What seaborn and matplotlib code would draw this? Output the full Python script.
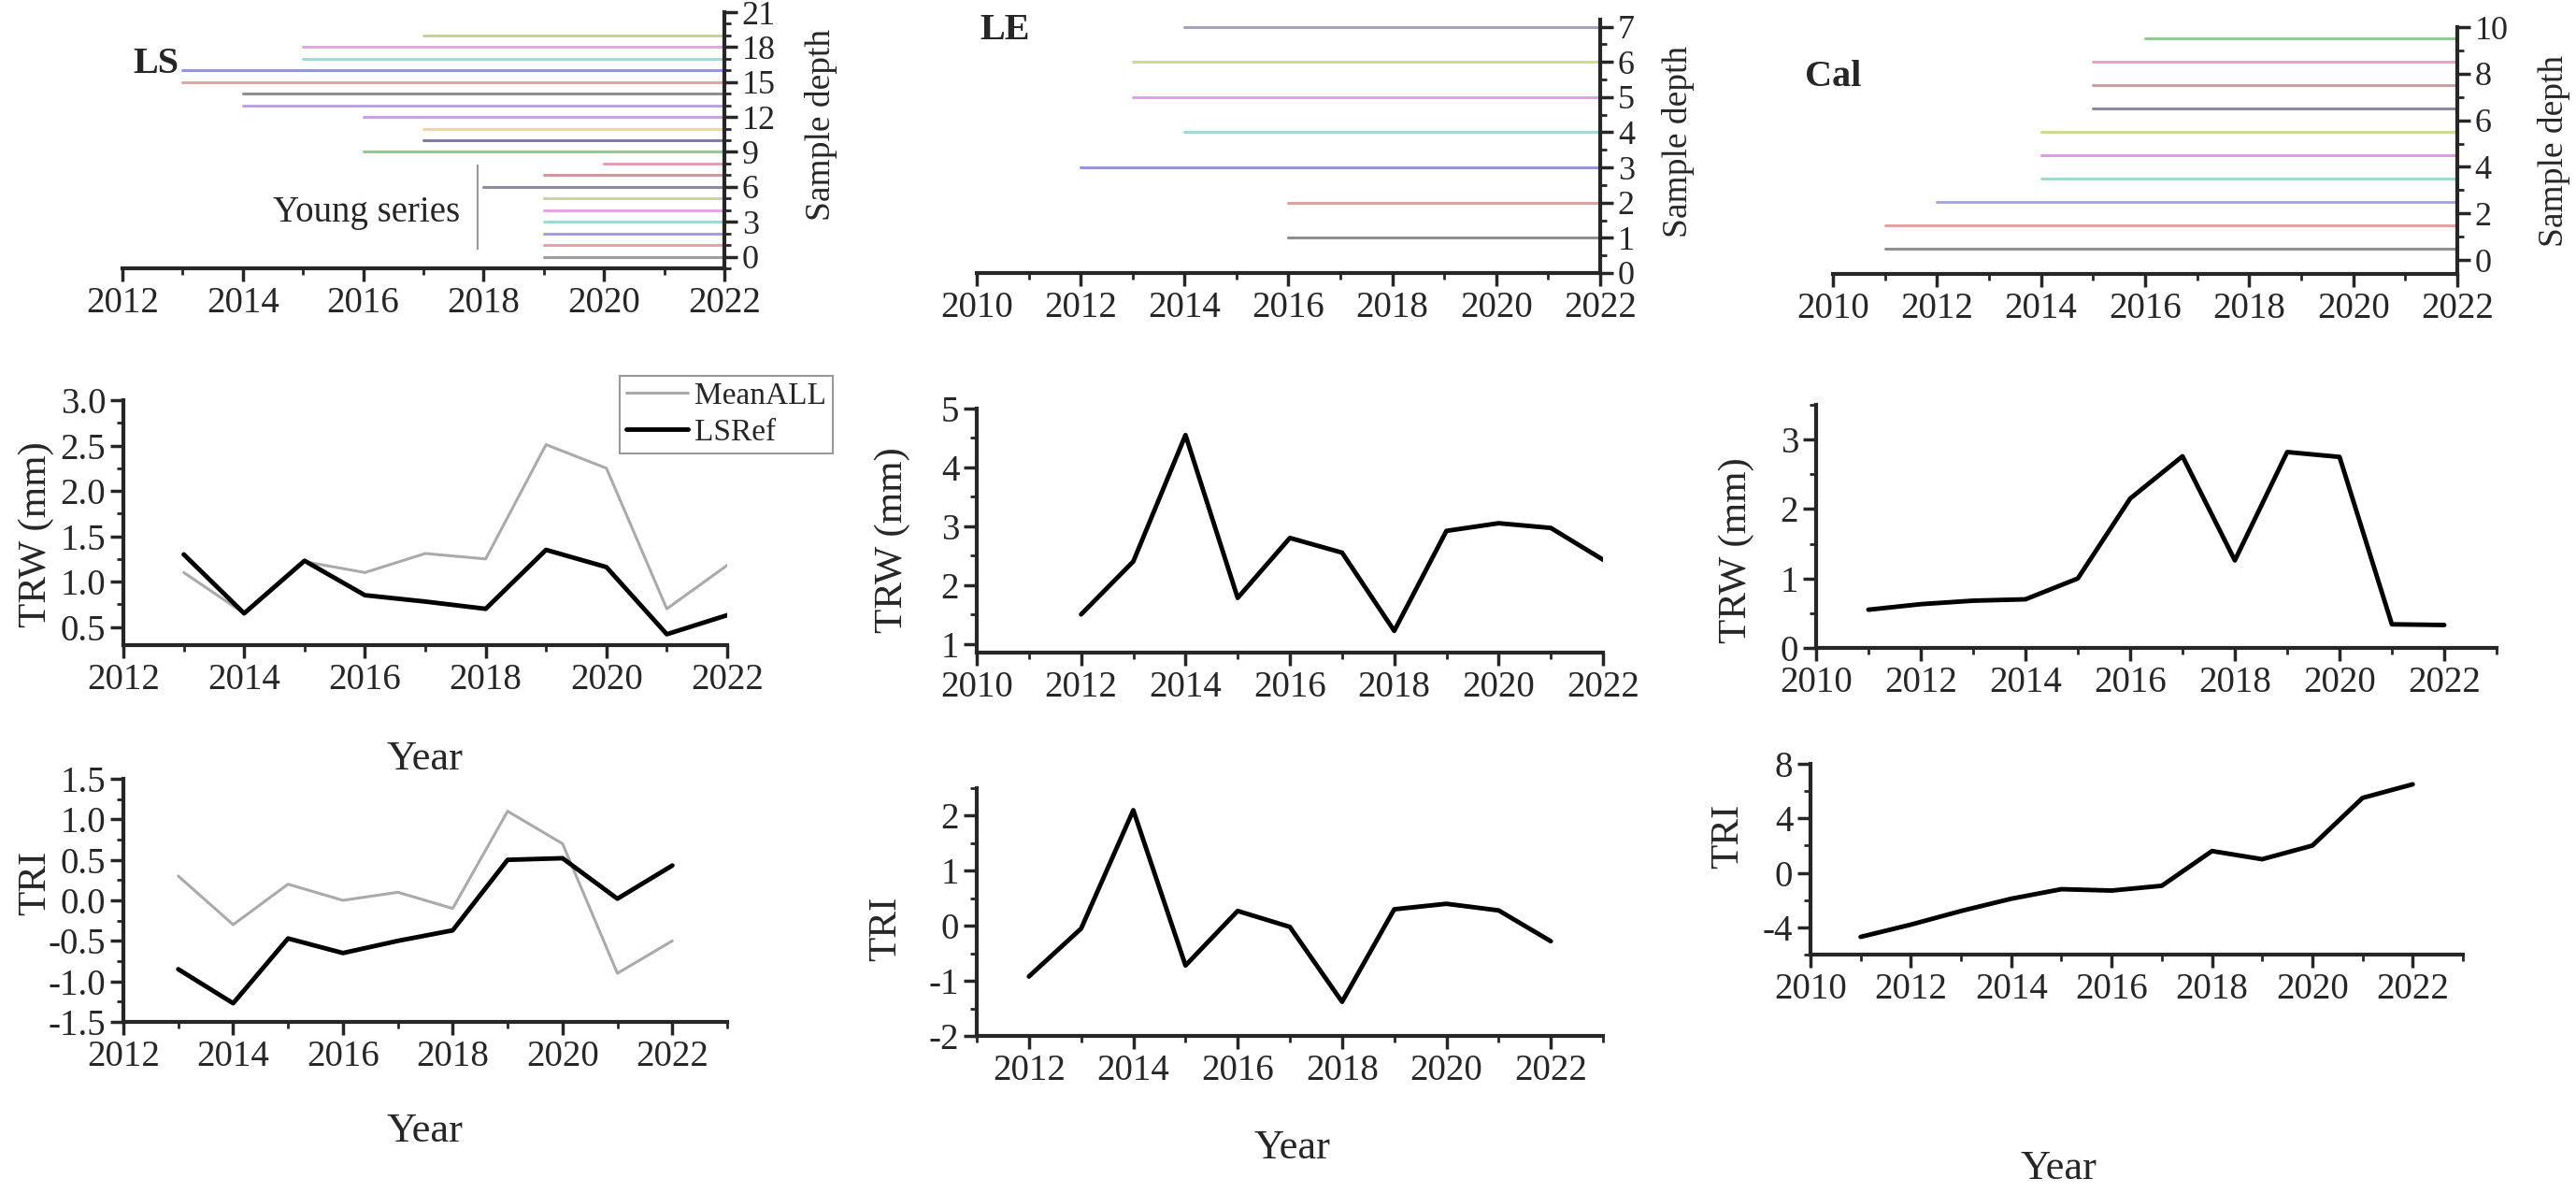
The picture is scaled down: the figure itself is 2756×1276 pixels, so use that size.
import pandas as pd
import matplotlib.pyplot as plt
import seaborn as sns
from matplotlib.ticker import MultipleLocator, FormatStrFormatter

# ---- sample depth segments (start year, all run to 2022), listed bottom to top
end_year = 2022
ls_start = [2019, 2019, 2019, 2019, 2019, 2019, 2018, 2019, 2020, 2016,
            2017, 2017, 2016, 2014, 2014, 2013, 2013, 2015, 2015, 2017]
ls_depth = list(range(20))
ls_colors = ["#9c9c9c", "#e6a3a3", "#a0a0e2", "#9fd9d2", "#e8a2e8", "#c9d79a",
             "#8c8c9c", "#c99d9d", "#e89db4", "#8fcb8f", "#7d7dab", "#f0d993",
             "#c9a3d9", "#b9a3e2", "#8f8f8f", "#e6a3a3", "#9494d9", "#a3d9d2",
             "#e8a2e8", "#c9d193"]

le_start = [2016, 2016, 2012, 2014, 2013, 2013, 2014]
le_depth = [1, 2, 3, 4, 5, 6, 7]
le_colors = ["#8f8f8f", "#d9a3a3", "#9494d9", "#a3d9d2", "#e2a2e2", "#d2d993", "#a3a3bb"]

cal_start = [2011, 2011, 2012, 2014, 2014, 2014, 2015, 2015, 2015, 2016]
cal_depth = [0.5, 1.5, 2.5, 3.5, 4.5, 5.5, 6.5, 7.5, 8.5, 9.5]
cal_colors = ["#8f8f8f", "#e6a3a3", "#a6a6e2", "#9fd9d2", "#dc9ddc", "#d2d993",
              "#8a8aa3", "#c4a3a3", "#e8a2c9", "#93c993"]

# ---- ring width / index series
ls_years = [2013, 2014, 2015, 2016, 2017, 2018, 2019, 2020, 2021, 2022]
ls_trw_mean = [1.10, 0.65, 1.22, 1.10, 1.31, 1.25, 2.51, 2.25, 0.70, 1.18]
ls_trw_ref = [1.30, 0.65, 1.23, 0.85, 0.78, 0.70, 1.35, 1.16, 0.42, 0.63]
ls_tri_mean = [0.30, -0.30, 0.20, 0.00, 0.10, -0.10, 1.10, 0.70, -0.90, -0.50]
ls_tri_ref = [-0.85, -1.27, -0.47, -0.65, -0.50, -0.37, 0.50, 0.52, 0.02, 0.43]

le_years = [2012, 2013, 2014, 2015, 2016, 2017, 2018, 2019, 2020, 2021, 2022]
le_trw = [1.50, 2.40, 4.55, 1.78, 2.80, 2.55, 1.22, 2.92, 3.05, 2.97, 2.43]
le_tri = [-0.92, -0.05, 2.10, -0.72, 0.27, -0.02, -1.38, 0.30, 0.40, 0.28, -0.28]

cal_years = [2011, 2012, 2013, 2014, 2015, 2016, 2017, 2018, 2019, 2020, 2021, 2022]
cal_trw = [0.55, 0.63, 0.68, 0.70, 1.00, 2.15, 2.76, 1.26, 2.82, 2.75, 0.34, 0.33]
cal_tri = [-4.7, -3.8, -2.8, -1.9, -1.2, -1.3, -0.95, 1.6, 1.0, 2.0, 5.5, 6.5]

sns.set_style("ticks")
plt.rcParams["font.family"] = ["Liberation Serif", "DejaVu Serif"]
plt.rcParams["axes.unicode_minus"] = False
plt.rcParams["axes.linewidth"] = 3

W, H = 2756, 1276
fig = plt.figure(figsize=(W / 100, H / 100), dpi=100)


def add_ax(x0, x1, y0, y1):
    # pixel box of the reference -> figure fraction
    return fig.add_axes([x0 / W, 1 - y1 / H, (x1 - x0) / W, (y1 - y0) / H])


def style_ticks(ax, xmaj, xmin, ymaj, ymin, ysize=28):
    ax.xaxis.set_major_locator(MultipleLocator(xmaj))
    ax.xaxis.set_minor_locator(MultipleLocator(xmin))
    ax.yaxis.set_major_locator(MultipleLocator(ymaj))
    ax.yaxis.set_minor_locator(MultipleLocator(ymin))
    ax.tick_params(which="major", direction="out", length=10, width=2.5, labelsize=28)
    ax.tick_params(which="minor", direction="out", length=5, width=2)
    ax.tick_params(axis="y", labelsize=ysize)


def depth_panel(box, starts, depths, colors, xlim, ylim, ymaj, ymin, name, name_xy, lab_xy):
    ax = add_ax(*box)
    ids = [f"s{i}" for i in range(len(starts))]
    seg = pd.DataFrame({"Year": starts + [end_year] * len(starts),
                        "Depth": depths + depths,
                        "id": ids + ids})
    sns.lineplot(data=seg, x="Year", y="Depth", hue="id", palette=colors,
                 estimator=None, sort=False, legend=False, lw=2.2, ax=ax)
    ax.set_xlim(*xlim)
    ax.set_ylim(*ylim)
    sns.despine(ax=ax, left=True, top=True, right=False)
    ax.yaxis.tick_right()
    ax.yaxis.set_label_position("right")
    style_ticks(ax, 2, 1, ymaj, ymin, ysize=26)
    ax.set_xlabel("")
    ax.set_ylabel("Sample depth", fontsize=27, va="center")
    ax.yaxis.set_label_coords(*lab_xy)
    fig.text(name_xy[0] / W, 1 - name_xy[1] / H, name, fontsize=29,
             fontweight="bold", ha="left", va="center")
    return ax


# ---- top row: sample depth
ax = depth_panel((131, 775, 13, 287), ls_start, ls_depth, ls_colors, (2012, 2022), (-1, 21),
                 3, 1, "LS", (142, 68), (1.16, 0.56))
ax.vlines(2017.9, 0.6, 7.9, color="#9a9a9a", lw=1.5)
ax.text(2017.6, 3.8, "Young series", fontsize=28, ha="right", va="center")

depth_panel((1045, 1712, 21, 292), le_start, le_depth, le_colors, (2010, 2022), (0, 7.2),
            1, 0.5, "LE", (1048, 32), (1.125, 0.52))
depth_panel((1961, 2629, 29, 293), cal_start, cal_depth, cal_colors, (2010, 2022), (-0.6, 10),
            2, 1, "Cal", (1931, 82), (1.155, 0.5))


def series_panel(box, xlim, ylim, xmaj_start, ymaj, ymin, ylabel, ylab_xy, fmt=None, year_xy=None):
    ax = add_ax(*box)
    ax.set_xlim(*xlim)
    ax.set_ylim(*ylim)
    sns.despine(ax=ax)
    style_ticks(ax, 2, 1, ymaj, ymin)
    ax.set_xticks(range(xmaj_start, 2023, 2))
    if fmt:
        ax.yaxis.set_major_formatter(FormatStrFormatter(fmt))
    ax.set_ylabel(ylabel, fontsize=31, va="center")
    ax.yaxis.set_label_coords(*ylab_xy)
    if year_xy:
        ax.set_xlabel("Year", fontsize=32, va="top")
        ax.xaxis.set_label_coords(*year_xy)
    else:
        ax.set_xlabel("")
    return ax


# ---- middle row: TRW
ax = series_panel((132, 778, 428, 690), (2012, 2022), (0.3, 3.0), 2012, 0.5, 0.25,
                  "TRW (mm)", (-0.145, 0.45), "%.1f", (0.5, -0.39))
sns.lineplot(x=ls_years, y=ls_trw_mean, color="#aaaaaa", lw=2.2, label="MeanALL", ax=ax)
sns.lineplot(x=ls_years, y=ls_trw_ref, color="black", lw=3.5, label="LSRef", ax=ax)
ax.set_xlim(2012, 2022)
ax.legend(loc="upper left", bbox_to_anchor=(663 / W, 1 - 402 / H), bbox_transform=fig.transFigure,
          fontsize=24, frameon=True, fancybox=False, edgecolor="#999999", framealpha=1,
          handlelength=2.0, handletextpad=0.2, borderpad=0.2, labelspacing=0.25,
          borderaxespad=0).get_frame().set_linewidth(1.5)
ax.set_xlabel("Year", fontsize=32, va="top")
ax.xaxis.set_label_coords(0.5, -0.39)

ax = series_panel((1045, 1715, 437, 698), (2010, 2022), (0.85, 5), 2010, 1, 0.5,
                  "TRW (mm)", (-0.134, 0.46))
sns.lineplot(x=le_years, y=le_trw, color="black", lw=3.5, ax=ax)

ax = series_panel((1943, 2671, 433, 693), (2010, 2023), (0, 3.5), 2010, 1, 0.5,
                  "TRW (mm)", (-0.117, 0.40))
sns.lineplot(x=cal_years, y=cal_trw, color="black", lw=3.5, ax=ax)

# ---- bottom row: TRI
ax = series_panel((132, 778, 833, 1093), (2012, 2023), (-1.5, 1.5), 2012, 0.5, 0.25,
                  "TRI", (-0.145, 0.57), "%.1f", (0.5, -0.373))
sns.lineplot(x=ls_years, y=ls_tri_mean, color="#aaaaaa", lw=2.2, ax=ax)
sns.lineplot(x=ls_years, y=ls_tri_ref, color="black", lw=3.5, ax=ax)

ax = series_panel((1045, 1715, 843, 1108), (2011, 2023), (-2, 2.5), 2012, 1, 0.5,
                  "TRI", (-0.145, 0.434), None, (0.503, -0.377))
sns.lineplot(x=le_years, y=le_tri, color="black", lw=3.5, ax=ax)

ax = series_panel((1937, 2635, 817, 1021), (2010, 2023), (-6, 8), 2010, 4, 2,
                  "TRI", (-0.126, 0.62), None, (0.38, -1.025))
sns.lineplot(x=cal_years, y=cal_tri, color="black", lw=3.5, ax=ax)

fig.savefig("out.png", dpi=100)
